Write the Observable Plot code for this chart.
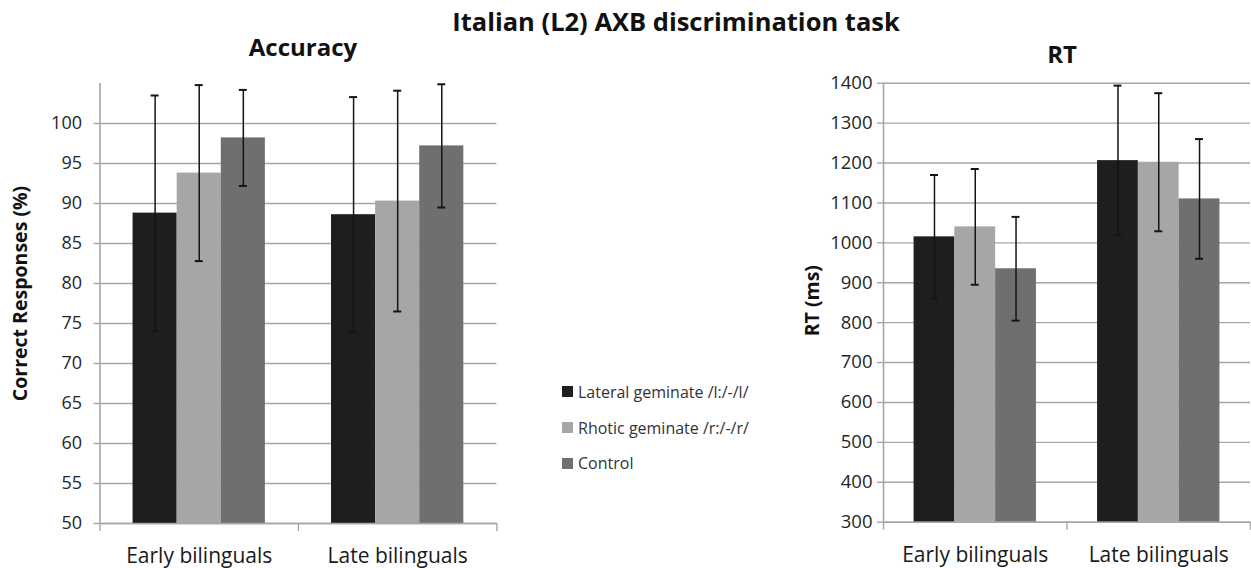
<!DOCTYPE html>
<html>
<head>
<meta charset="utf-8">
<script src="https://cdn.jsdelivr.net/npm/d3@7"></script>
<script src="https://cdn.jsdelivr.net/npm/@observablehq/plot@0.6"></script>
<style>
  body { margin: 0; background: #fff; }
  #root { position: relative; width: 1251px; height: 568px; overflow: hidden; background: #fff; font-family: "Open Sans", sans-serif; }
  .ttl { position: absolute; font-weight: 700; color: #111; white-space: nowrap; transform: translateX(-50%); line-height: 1; }
  .panel { position: absolute; top: 60px; }
  .legend { position: absolute; left: 562px; top: 374px; font-size: 16px; color: #333; }
  .legend .row { display: flex; align-items: center; height: 35.8px; }
  .legend .sw { width: 11px; height: 11px; margin-right: 5px; }
</style>
</head>
<body>
<div id="root"></div>
<script>
// ---- data ----
const groups = ["Early bilinguals", "Late bilinguals"];
const series = ["Lateral geminate /l:/-/l/", "Rhotic geminate /r:/-/r/", "Control"];
const colors = ["#1e1e1e", "#a6a6a6", "#6f6f6f"];

// Accuracy (% correct): rows = groups, columns = series
const accMean = [[88.8, 93.8, 98.2], [88.6, 90.3, 97.2]];
const accSD   = [[14.7, 11.0, 6.0], [14.7, 13.8, 7.7]];
const accTicks = [50, 55, 60, 65, 70, 75, 80, 85, 90, 95, 100];
const accDomain = [50, 105];

// RT (ms): rows = groups, columns = series
const rtMean = [[1015, 1040, 935], [1206, 1202, 1110]];
const rtSD   = [[155, 145, 130], [188, 173, 150]];
const rtTicks = [300, 400, 500, 600, 700, 800, 900, 1000, 1100, 1200, 1300, 1400];
const rtDomain = [300, 1400];

const title = "Italian (L2) AXB discrimination task";

// ---- build ----
function rows(means, sds) {
  return groups.flatMap((g, gi) => series.map((s, si) => ({group: g, gi, series: s, si, mean: means[gi][si], sd: sds[gi][si]})));
}
const GAP = 1 / 6;                          // Excel-like gap on each side of a group
const BW = (1 - 2 * GAP) / series.length;   // bar width in category units
const left = d => d.gi + GAP + d.si * BW;
const right = d => d.gi + GAP + (d.si + 1) * BW;
const mid = d => d.gi + GAP + (d.si + 0.5) * BW;

const GRID = "#a6a6a6";
const INK = "#141414";

function panel({data, ticks, yDomain, width, height, marginLeft, marginRight, marginTop, marginBottom, label, labelDx, labelDy, tickPadding, tickFont}) {
  const base = yDomain[0];
  return Plot.plot({
    width, height, marginLeft, marginRight, marginTop, marginBottom,
    style: {fontFamily: '"Open Sans", sans-serif', fontSize: tickFont + "px", background: "transparent", color: "#262626", overflow: "visible"},
    x: {domain: [0, groups.length]},
    y: {domain: yDomain},
    color: {domain: series, range: colors},
    marks: [
      Plot.ruleY(ticks, {stroke: GRID, strokeWidth: 1.4}),
      Plot.rectY(data, {x1: left, x2: right, y1: base, y2: "mean", fill: "series"}),
      Plot.ruleX(data, {x: mid, y1: d => d.mean - d.sd, y2: d => d.mean + d.sd, stroke: INK, strokeWidth: 1.5}),
      Plot.ruleY(data, {x1: mid, x2: mid, y: d => d.mean + d.sd, insetLeft: -4, insetRight: -4, stroke: INK, strokeWidth: 2}),
      Plot.ruleY(data, {x1: mid, x2: mid, y: d => d.mean - d.sd, insetLeft: -4, insetRight: -4, stroke: INK, strokeWidth: 2}),
      Plot.ruleX([0], {y1: yDomain[0], y2: yDomain[1], stroke: GRID, strokeWidth: 1.6}),
      Plot.ruleY([base], {stroke: GRID, strokeWidth: 1.6}),
      Plot.axisY({ticks, tickSize: 6, tickPadding, tickFormat: d => String(d), stroke: GRID, strokeWidth: 1.4, fill: "#262626", fontSize: tickFont, label: null}),
      Plot.axisX({ticks: d3.range(groups.length + 1), tickSize: 8, tickFormat: () => "", stroke: GRID, strokeWidth: 1.4, label: null}),
      Plot.axisX({ticks: groups.map((g, i) => i + 0.5), tickSize: 0, tickPadding: 25, tickFormat: v => groups[Math.floor(v)], fontSize: 21, fill: "#1a1a1a", label: null}),
      Plot.text([label], {text: d => d, frameAnchor: "left", dx: labelDx, dy: labelDy, rotate: -90, textAnchor: "middle", fontWeight: "bold", fontSize: 19.5, fill: "#111"})
    ]
  });
}

const root = document.getElementById("root");

function addTitle(text, cx, top, size) {
  const el = document.createElement("div");
  el.className = "ttl";
  el.textContent = text;
  el.style.left = cx + "px";
  el.style.top = top + "px";
  el.style.fontSize = size + "px";
  root.appendChild(el);
}

addTitle(title, 676, 9, 25.5);
addTitle("Accuracy", 303, 35, 24);
addTitle("RT", 1062, 42, 24);

const accPlot = panel({
  data: rows(accMean, accSD), ticks: accTicks, yDomain: accDomain,
  width: 510, height: 508, marginLeft: 99.5, marginRight: 13.6, marginTop: 23, marginBottom: 45,
  label: "Correct Responses (%)", labelDx: -79, labelDy: -10, tickPadding: 12, tickFont: 18
});
const accWrap = document.createElement("div");
accWrap.className = "panel"; accWrap.style.left = "0px";
accWrap.appendChild(accPlot);
root.appendChild(accWrap);

const rtPlot = panel({
  data: rows(rtMean, rtSD), ticks: rtTicks, yDomain: rtDomain,
  width: 461, height: 508, marginLeft: 93, marginRight: 1, marginTop: 22.7, marginBottom: 46.3,
  label: "RT (ms)", labelDx: -71, labelDy: -2, tickPadding: 5, tickFont: 18.5
});
const rtWrap = document.createElement("div");
rtWrap.className = "panel"; rtWrap.style.left = "790px";
rtWrap.appendChild(rtPlot);
root.appendChild(rtWrap);

// legend
const legend = document.createElement("div");
legend.className = "legend";
series.forEach((s, i) => {
  const row = document.createElement("div");
  row.className = "row";
  const sw = document.createElement("span");
  sw.className = "sw";
  sw.style.background = colors[i];
  const t = document.createElement("span");
  t.textContent = s;
  row.appendChild(sw); row.appendChild(t);
  legend.appendChild(row);
});
root.appendChild(legend);
</script>
</body>
</html>
